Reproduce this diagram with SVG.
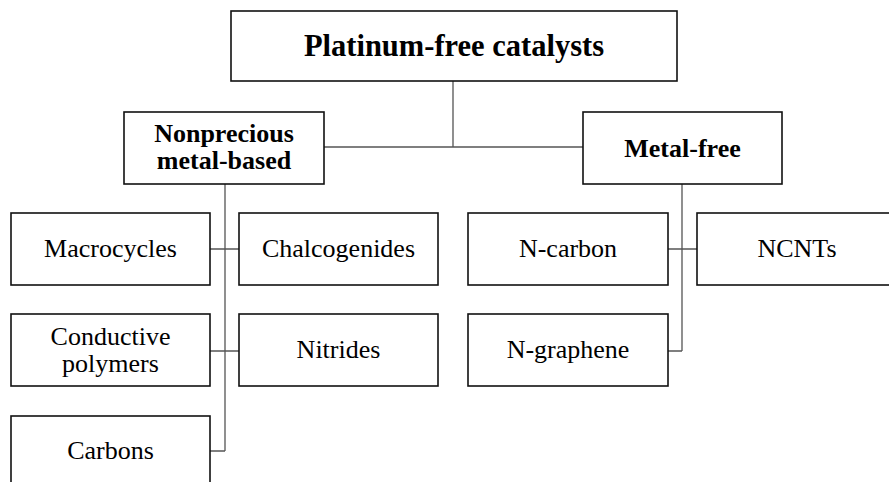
<svg xmlns="http://www.w3.org/2000/svg" width="889" height="482" viewBox="0 0 889 482">
<style>
.box{fill:#fff;stroke:#111;stroke-width:1.6}
.t{font-family:"Liberation Serif","Times New Roman",serif;font-size:26px;fill:#000;text-anchor:middle}
.b{font-weight:bold}
.c{stroke:#555;stroke-width:1.3;fill:none}
</style>
<rect width="889" height="482" fill="#fff"/>
<g id="connectors">
<path class="c" d="M453 81V147M324 147H583"/>
<path class="c" d="M225 184V451M210 249H239M210 351H239M210 451H225"/>
<path class="c" d="M682 184V351M668 249H697M668 351H682"/>
</g>
<g id="root"><rect class="box" x="231" y="11" width="446" height="70"/><text class="t b" x="454" y="56" style="font-size:30.5px">Platinum-free catalysts</text></g>
<g id="nonprecious"><rect class="box" x="124" y="112" width="200" height="72"/><text class="t b" x="224" y="142">Nonprecious</text><text class="t b" x="224" y="169">metal-based</text></g>
<g id="metalfree"><rect class="box" x="583" y="112" width="199" height="72"/><text class="t b" x="682.5" y="157">Metal-free</text></g>
<g id="macrocycles"><rect class="box" x="11" y="213" width="199" height="72"/><text class="t" x="110.5" y="257">Macrocycles</text></g>
<g id="chalcogenides"><rect class="box" x="239" y="213" width="199" height="72"/><text class="t" x="338.5" y="257">Chalcogenides</text></g>
<g id="conductive"><rect class="box" x="11" y="314" width="199" height="72"/><text class="t" x="110.5" y="345">Conductive</text><text class="t" x="110.5" y="372">polymers</text></g>
<g id="nitrides"><rect class="box" x="239" y="314" width="199" height="72"/><text class="t" x="338.5" y="358">Nitrides</text></g>
<g id="carbons"><rect class="box" x="11" y="416" width="199" height="80"/><text class="t" x="110.5" y="459">Carbons</text></g>
<g id="ncarbon"><rect class="box" x="468" y="213" width="200" height="72"/><text class="t" x="568" y="257">N-carbon</text></g>
<g id="ncnts"><rect class="box" x="697" y="213" width="200" height="72"/><text class="t" x="797" y="257">NCNTs</text></g>
<g id="ngraphene"><rect class="box" x="468" y="314" width="200" height="72"/><text class="t" x="568" y="358">N-graphene</text></g>
</svg>
